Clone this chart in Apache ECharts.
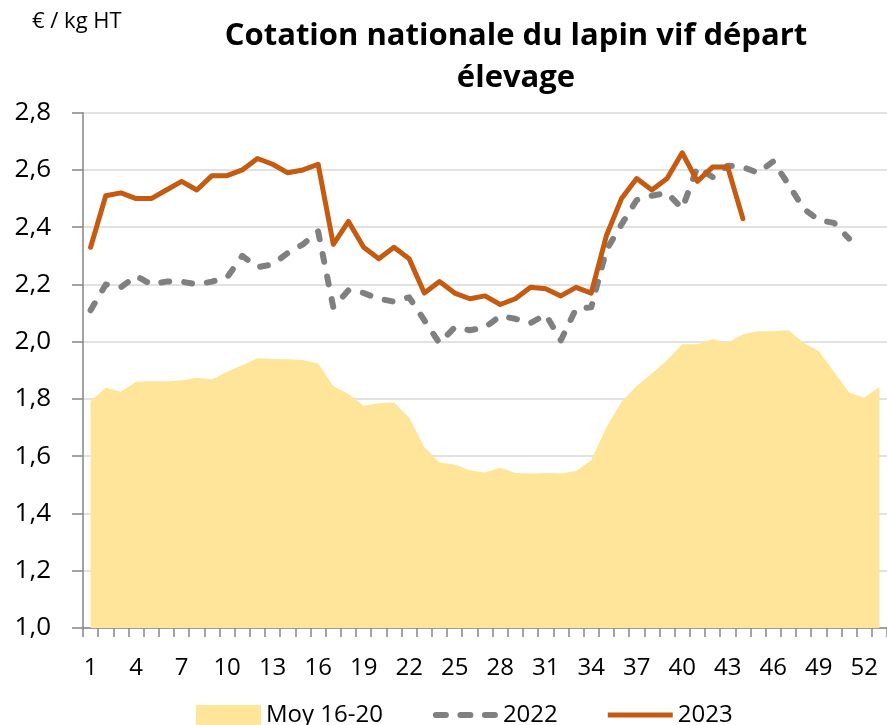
<!DOCTYPE html>
<html>
<head>
<meta charset="utf-8">
<script src="https://cdn.jsdelivr.net/npm/echarts@6/dist/echarts.min.js"></script>
<style>
  html, body { margin: 0; padding: 0; background: #fff; }
  #chart { width: 887px; height: 725px; }
</style>
</head>
<body>
<div id="chart"></div>
<script>
// weeks 1..53 (53rd only carries the 5-year average)
const weeks = Array.from({ length: 53 }, (_, i) => String(i + 1));

const moy1620 = [
  1.792, 1.839, 1.825, 1.86, 1.862, 1.862, 1.865, 1.874, 1.868, 1.895,
  1.918, 1.942, 1.94, 1.939, 1.936, 1.924, 1.845, 1.817, 1.776, 1.785,
  1.788, 1.735, 1.631, 1.578, 1.571, 1.551, 1.543, 1.56, 1.541, 1.54,
  1.541, 1.54, 1.548, 1.586, 1.70, 1.79, 1.845, 1.889, 1.935, 1.991,
  1.991, 2.009, 1.996, 2.026, 2.037, 2.037, 2.04, 1.996, 1.968, 1.895,
  1.823, 1.804, 1.842
];

const y2022 = [
  2.11, 2.20, 2.19, 2.23, 2.20, 2.21, 2.21, 2.20, 2.21, 2.225,
  2.30, 2.26, 2.27, 2.31, 2.34, 2.385, 2.12, 2.18, 2.17, 2.15,
  2.14, 2.155, 2.075, 1.995, 2.05, 2.04, 2.05, 2.09, 2.08, 2.065,
  2.095, 2.005, 2.115, 2.12, 2.32, 2.41, 2.495, 2.51, 2.52, 2.465,
  2.61, 2.575, 2.615, 2.61, 2.59, 2.63, 2.55, 2.465, 2.425, 2.415,
  2.36
];

const y2023 = [
  2.33, 2.51, 2.52, 2.50, 2.50, 2.53, 2.56, 2.53, 2.58, 2.58,
  2.60, 2.64, 2.62, 2.59, 2.60, 2.62, 2.34, 2.42, 2.33, 2.29,
  2.33, 2.29, 2.17, 2.21, 2.17, 2.15, 2.16, 2.13, 2.15, 2.19,
  2.185, 2.16, 2.19, 2.17, 2.37, 2.50, 2.57, 2.53, 2.57, 2.66,
  2.56, 2.61, 2.61, 2.43
];

const FONT = "Open Sans";
const AREA = "#fee599";
const GREY = "#808080";
const ORANGE = "#c55a11";

// legend swatches drawn as paths inside a 65x20 box
const pill = (x) => `M${x + 3},7h10a3,3 0 0 1 0,6h-10a3,3 0 0 1 0,-6z`;
const dashIcon = "path://M0,0M65,20" + pill(0) + pill(24.5) + pill(49);
const solidIcon = "path://M0,0M65,20M0,7.5h65v5h-65z";

const chart = echarts.init(document.getElementById("chart"));

const option = {
  animation: false,
  textStyle: { fontFamily: FONT },
  title: [
    {
      text: "Cotation nationale du lapin vif départ\nélevage",
      left: 511,
      top: 10,
      textAlign: "center",
      textStyle: {
        fontFamily: FONT,
        fontSize: 31,
        fontWeight: "bold",
        color: "#000",
        lineHeight: 42,
      },
    },
    {
      text: "€ / kg HT",
      left: 27,
      top: 6,
      textStyle: {
        fontFamily: FONT,
        fontSize: 22,
        fontWeight: "normal",
        color: "#000",
      },
    },
  ],
  legend: {
    left: 191,
    top: 698,
    itemWidth: 65,
    itemHeight: 20,
    itemGap: 50,
    textStyle: { fontFamily: FONT, fontSize: 24, color: "#000" },
    data: [
      { name: "Moy 16-20", icon: "rect", itemStyle: { color: AREA } },
      { name: "2022", icon: dashIcon, itemStyle: { color: GREY } },
      { name: "2023", icon: solidIcon, itemStyle: { color: ORANGE } },
    ],
  },
  grid: {
    left: 83,
    right: -4,
    top: 112.7,
    bottom: 97,
  },
  xAxis: {
    type: "category",
    data: weeks,
    boundaryGap: true,
    axisLine: { lineStyle: { color: "#868686", width: 1.5 } },
    axisTick: {
      show: true,
      interval: 0,
      length: 9,
      lineStyle: { color: "#868686", width: 1.5 },
    },
    axisLabel: {
      interval: 2,
      margin: 28,
      fontFamily: FONT,
      fontSize: 24,
      color: "#000",
    },
  },
  yAxis: {
    type: "value",
    min: 1.0,
    max: 2.8,
    interval: 0.2,
    axisLine: { show: true, lineStyle: { color: "#868686", width: 1.5 } },
    axisTick: {
      show: true,
      inside: false,
      length: 11,
      lineStyle: { color: "#868686", width: 1.5 },
    },
    splitLine: { lineStyle: { color: "#d9d9d9", width: 1.5 } },
    axisLabel: {
      margin: 32,
      fontFamily: FONT,
      fontSize: 26,
      color: "#000",
      formatter: (v) => v.toFixed(1).replace(".", ","),
    },
  },
  series: [
    {
      name: "Moy 16-20",
      type: "line",
      data: moy1620,
      symbol: "none",
      lineStyle: { width: 0, color: AREA },
      itemStyle: { color: AREA },
      areaStyle: { color: AREA, opacity: 1, origin: "start" },
      z: 1,
    },
    {
      name: "2022",
      type: "line",
      data: y2022,
      symbol: "none",
      itemStyle: { color: GREY },
      lineStyle: {
        color: GREY,
        width: 6,
        type: [8, 15],
        cap: "round",
        join: "round",
      },
      z: 2,
    },
    {
      name: "2023",
      type: "line",
      data: y2023,
      symbol: "none",
      itemStyle: { color: ORANGE },
      lineStyle: { color: ORANGE, width: 5, cap: "round", join: "round" },
      z: 3,
    },
  ],
};

chart.setOption(option);
</script>
</body>
</html>
